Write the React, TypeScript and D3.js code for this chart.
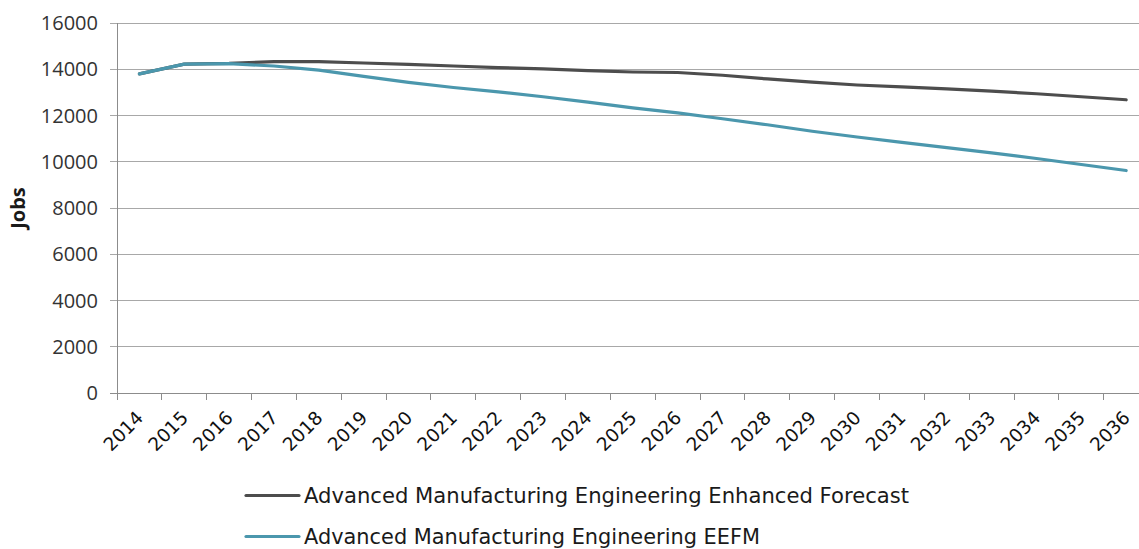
import React from "react";
import * as d3 from "d3";

const years = [
  "2014", "2015", "2016", "2017", "2018", "2019", "2020", "2021", "2022", "2023", "2024", "2025",
  "2026", "2027", "2028", "2029", "2030", "2031", "2032", "2033", "2034", "2035", "2036",
];

const enhancedForecast = [
  13800, 14220, 14250, 14330, 14330, 14270, 14210, 14140, 14070, 14020, 13940, 13880,
  13860, 13740, 13580, 13440, 13320, 13240, 13150, 13050, 12940, 12810, 12680,
];

const eefm = [
  13800, 14220, 14240, 14140, 13960, 13690, 13430, 13210, 13020, 12810, 12580, 12330,
  12110, 11860, 11600, 11320, 11070, 10840, 10610, 10380, 10140, 9880, 9620,
];

const yTicks = [0, 2000, 4000, 6000, 8000, 10000, 12000, 14000, 16000];

const seriesNames = [
  "Advanced Manufacturing Engineering Enhanced Forecast",
  "Advanced Manufacturing Engineering EEFM",
];
const seriesColors = ["#4d4d4d", "#4b97ad"];

const W = 1139;
const H = 549;
const plot = { left: 117, right: 1148.6, top: 23, bottom: 393 };

export default function App() {
  const x = d3
    .scaleBand<string>()
    .domain(years)
    .range([plot.left, plot.right])
    .paddingInner(0)
    .paddingOuter(0);
  const y = d3.scaleLinear().domain([0, 16000]).range([plot.bottom, plot.top]);

  const cx = (yr: string) => (x(yr) as number) + x.bandwidth() / 2;

  const line = d3
    .line<number>()
    .x((_, i) => cx(years[i]))
    .y((v) => y(v));

  const series = [enhancedForecast, eefm];
  const tickEdges = [...years.map((yr) => x(yr) as number), plot.right];

  return (
    <svg
      width={W}
      height={H}
      style={{ position: "absolute", left: 0, top: 0, background: "#fff" }}
    >
      {/* horizontal gridlines with outward tick stubs */}
      {yTicks.map((t) => (
        <line
          key={"g" + t}
          x1={plot.left - 7}
          x2={plot.right}
          y1={y(t)}
          y2={y(t)}
          stroke={t === 0 ? "#8c8c8c" : "#a8a8a8"}
          strokeWidth={1}
          shapeRendering="crispEdges"
        />
      ))}
      {/* y axis line */}
      <line
        x1={plot.left}
        x2={plot.left}
        y1={plot.top}
        y2={plot.bottom}
        stroke="#8c8c8c"
        strokeWidth={1}
        shapeRendering="crispEdges"
      />
      {/* category tick marks */}
      {tickEdges.map((tx, i) => (
        <line
          key={"t" + i}
          x1={tx}
          x2={tx}
          y1={plot.bottom}
          y2={plot.bottom + 7}
          stroke="#8c8c8c"
          strokeWidth={1}
          shapeRendering="crispEdges"
        />
      ))}
      {/* y tick labels */}
      {yTicks.map((t) => (
        <text
          key={"yl" + t}
          x={98}
          y={y(t)}
          dy="0.35em"
          textAnchor="end"
          fontFamily="'Open Sans', sans-serif"
          fontSize={20}
          fill="#333"
        >
          {t}
        </text>
      ))}
      {/* y axis title */}
      <text
        transform={`translate(25, ${(plot.top + plot.bottom) / 2}) rotate(-90)`}
        textAnchor="middle"
        fontFamily="'Open Sans', sans-serif"
        fontWeight="bold"
        fontSize={20}
        fill="#1a1a1a"
      >
        Jobs
      </text>
      {/* x tick labels, rotated */}
      {years.map((yr) => (
        <text
          key={"xl" + yr}
          transform={`translate(${cx(yr) + 5}, ${plot.bottom + 26}) rotate(-45)`}
          textAnchor="end"
          fontFamily="'DejaVu Sans', sans-serif"
          fontSize={18.5}
          fill="#111"
        >
          {yr}
        </text>
      ))}
      {/* series lines */}
      {series.map((s, i) => (
        <path
          key={"s" + i}
          d={line(s) || ""}
          fill="none"
          stroke={seriesColors[i]}
          strokeWidth={3.2}
          strokeLinejoin="round"
          strokeLinecap="round"
        />
      ))}
      {/* legend */}
      {seriesNames.map((name, i) => {
        const ly = 495.5 + i * 41;
        return (
          <g key={"lg" + i}>
            <line
              x1={246}
              x2={299}
              y1={ly}
              y2={ly}
              stroke={seriesColors[i]}
              strokeWidth={3.2}
              strokeLinecap="round"
            />
            <text
              x={304}
              y={ly + 7.5}
              fontFamily="'DejaVu Sans', sans-serif"
              fontSize={20.5}
              fill="#1a1a1a"
              textLength={i === 0 ? 605 : 456}
              lengthAdjust="spacingAndGlyphs"
            >
              {name}
            </text>
          </g>
        );
      })}
    </svg>
  );
}
